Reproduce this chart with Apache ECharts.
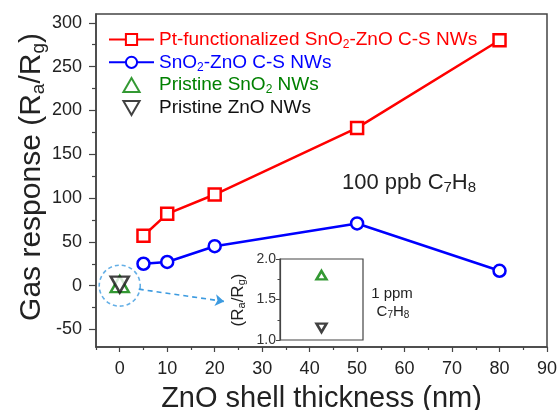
<!DOCTYPE html>
<html><head><meta charset="utf-8">
<script src="https://cdn.jsdelivr.net/npm/echarts@6/dist/echarts.min.js"></script>
<style>html,body{margin:0;padding:0;background:#fff}#c{width:560px;height:410px}</style>
</head><body><div id="c"></div>
<script>
// ---- data ----
const thickness = [5, 10, 20, 50, 80];
const ptSnO2ZnO = [57, 82, 104, 180, 280];
const snO2ZnO = [25, 27, 45, 71, 17];
const pristineX = [0];
const pristineSnO2 = [1.8];
const pristineZnO = [1.15];
const xTicks = [0, 10, 20, 30, 40, 50, 60, 70, 80, 90];
const xMinor = [-5, 5, 15, 25, 35, 45, 55, 65, 75, 85];
const yTicks = [-50, 0, 50, 100, 150, 200, 250, 300];
const yMinor = [-25, 25, 75, 125, 175, 225, 275];
const insetTicks = [1.0, 1.5, 2.0];
const insetMinor = [1.25, 1.75];
const seriesNames = ['Pt-functionalized SnO2-ZnO C-S NWs', 'SnO2-ZnO C-S NWs', 'Pristine SnO2 NWs', 'Pristine ZnO NWs'];
const circleCenter = [0, 0];
const arrowFrom = [4, -4];
const arrowTo = [22, -18];

const FF = 'Liberation Sans, Arial, sans-serif';
const RED = '#ff0000', BLUE = '#0000ff', GREEN = '#008000', BLACK = '#111111', AX = '#444444', LBL = '#222222';
const TRI_UP = 'path://M5,0L10,8.66L0,8.66Z';
const TRI_DOWN = 'path://M0,0L10,0L5,8.66Z';
const legendKeys = ['r', 'b', 'g', 'k'];
const legendColors = [RED, BLUE, GREEN, BLACK];

const rich = {};
legendKeys.forEach((k, i) => {
  rich[k] = { fontSize: 19, fontFamily: FF, color: legendColors[i], lineHeight: 22 };
  rich[k + 's'] = { fontSize: 12, fontFamily: FF, color: legendColors[i], lineHeight: 12, verticalAlign: 'bottom' };
});

function legendFmt(name) {
  const k = legendKeys[seriesNames.indexOf(name)];
  return '{' + k + '|' + name.replace(/SnO2/g, 'SnO}{' + k + 's|2}{' + k + '|') + '}';
}

const chart = echarts.init(document.getElementById('c'), null, { renderer: 'canvas' });

const option = {
  animation: false,
  backgroundColor: '#fff',
  grid: [
    { left: 96, right: 13, top: 14, bottom: 63, show: true, borderColor: AX, borderWidth: 1.5, outerBoundsMode: 'none', containLabel: false },
    { left: 280, top: 259, width: 83, height: 81, show: true, borderColor: AX, borderWidth: 1.2, backgroundColor: '#fff', outerBoundsMode: 'none', containLabel: false }
  ],
  legend: {
    left: 103, top: 25, orient: 'vertical', itemWidth: 45, itemHeight: 14, itemGap: 2.3,
    selectedMode: false, data: seriesNames, formatter: legendFmt, symbolKeepAspect: true,
    textStyle: { rich: rich }
  },
  xAxis: [
    { gridIndex: 0, type: 'value', min: -5, max: 90, splitLine: { show: false },
      axisLine: { show: true, onZero: false, lineStyle: { color: AX, width: 1.5 } },
      axisTick: { show: true, customValues: xTicks, length: 5, lineStyle: { color: AX, width: 1.2 } },
      axisLabel: { customValues: xTicks, fontSize: 18, fontFamily: FF, color: LBL, margin: 13 },
      name: 'ZnO shell thickness (nm)', nameLocation: 'middle', nameGap: 37,
      nameTextStyle: { fontSize: 29, fontFamily: FF, color: LBL } },
    { gridIndex: 0, type: 'value', min: -5, max: 90, position: 'bottom', splitLine: { show: false },
      axisLine: { show: false, onZero: false },
      axisTick: { show: true, customValues: xMinor, length: 3, lineStyle: { color: AX, width: 1.2 } },
      axisLabel: { show: false } },
    { gridIndex: 1, type: 'value', min: -1, max: 1, splitLine: { show: false },
      axisLine: { show: false, onZero: false }, axisTick: { show: false }, axisLabel: { show: false } }
  ],
  yAxis: [
    { gridIndex: 0, type: 'value', min: -70, max: 310, splitLine: { show: false },
      axisLine: { show: true, onZero: false, lineStyle: { color: AX, width: 1.5 } },
      axisTick: { show: true, customValues: yTicks, length: 7, lineStyle: { color: AX, width: 1.2 } },
      axisLabel: { customValues: yTicks, fontSize: 18, fontFamily: FF, color: LBL, margin: 14 } },
    { gridIndex: 0, type: 'value', min: -70, max: 310, position: 'left', splitLine: { show: false },
      axisLine: { show: false, onZero: false },
      axisTick: { show: true, customValues: yMinor, length: 4, lineStyle: { color: AX, width: 1.2 } },
      axisLabel: { show: false } },
    { gridIndex: 1, type: 'value', min: 1, max: 2, splitLine: { show: false },
      axisLine: { show: true, onZero: false, lineStyle: { color: AX, width: 1.2 } },
      axisTick: { show: true, customValues: insetTicks, length: 4, lineStyle: { color: AX, width: 1 } },
      axisLabel: { customValues: insetTicks, fontSize: 14, fontFamily: FF, color: '#333', margin: 4,
        formatter: v => v.toFixed(1) } },
    { gridIndex: 1, type: 'value', min: 1, max: 2, position: 'left', splitLine: { show: false },
      axisLine: { show: false, onZero: false },
      axisTick: { show: true, customValues: insetMinor, length: 2.5, lineStyle: { color: AX, width: 1 } },
      axisLabel: { show: false } }
  ],
  series: [
    { type: 'scatter', name: 'circle', xAxisIndex: 0, yAxisIndex: 0, silent: true, z: 1,
      data: [circleCenter], symbol: 'circle', symbolSize: 41,
      itemStyle: { color: 'rgba(0,0,0,0)', borderColor: '#3d9be0', borderWidth: 1.6, borderType: [4, 3] },
      markLine: { silent: true, symbol: ['none', 'arrow'], symbolSize: [9, 9],
        lineStyle: { color: '#3d9be0', width: 1.6, type: [5, 4] }, label: { show: false },
        data: [[{ coord: arrowFrom }, { coord: arrowTo }]] } },
    { type: 'line', name: seriesNames[0], xAxisIndex: 0, yAxisIndex: 0, z: 3,
      data: thickness.map((x, i) => [x, ptSnO2ZnO[i]]),
      symbol: 'rect', symbolSize: 12, showAllSymbol: true,
      lineStyle: { color: RED, width: 2.5 },
      itemStyle: { color: '#fff', borderColor: RED, borderWidth: 2.5 } },
    { type: 'line', name: seriesNames[1], xAxisIndex: 0, yAxisIndex: 0, z: 3,
      data: thickness.map((x, i) => [x, snO2ZnO[i]]),
      symbol: 'circle', symbolSize: 12, showAllSymbol: true,
      lineStyle: { color: BLUE, width: 2.5 },
      itemStyle: { color: '#fff', borderColor: BLUE, borderWidth: 2.5 } },
    { type: 'scatter', name: seriesNames[2], xAxisIndex: 0, yAxisIndex: 0, z: 4,
      data: pristineX.map((x, i) => [x, pristineSnO2[i]]),
      symbol: TRI_UP, symbolSize: [18, 16],
      itemStyle: { color: '#fff', borderColor: GREEN, borderWidth: 2.5 } },
    { type: 'scatter', name: seriesNames[3], xAxisIndex: 0, yAxisIndex: 0, z: 5,
      data: pristineX.map((x, i) => [x, pristineZnO[i]]),
      symbol: TRI_DOWN, symbolSize: [18, 16],
      itemStyle: { color: '#fff', borderColor: BLACK, borderWidth: 2.5 } },
    { type: 'scatter', name: seriesNames[2], xAxisIndex: 2, yAxisIndex: 2, z: 6,
      data: pristineX.map((x, i) => [x, pristineSnO2[i]]),
      symbol: TRI_UP, symbolSize: [10, 8.5],
      itemStyle: { color: '#fff', borderColor: GREEN, borderWidth: 2.5 } },
    { type: 'scatter', name: seriesNames[3], xAxisIndex: 2, yAxisIndex: 2, z: 6,
      data: pristineX.map((x, i) => [x, pristineZnO[i]]),
      symbol: TRI_DOWN, symbolSize: [10, 8.5],
      itemStyle: { color: '#fff', borderColor: BLACK, borderWidth: 2.5 } }
  ],
  graphic: [
    { type: 'text', x: 32, y: 177, rotation: Math.PI / 2, z: 10,
      style: { text: '{t|Gas response (R}{s|a}{t|/R}{s|g}{t|)}', align: 'center', verticalAlign: 'middle',
        rich: { t: { fontSize: 30, fontFamily: FF, fill: LBL, lineHeight: 33 },
                s: { fontSize: 19, fontFamily: FF, fill: LBL, lineHeight: 19, verticalAlign: 'bottom' } } } },
    { type: 'text', x: 342, y: 183, z: 10,
      style: { text: '{t|100 ppb C}{s|7}{t|H}{s|8}', align: 'left', verticalAlign: 'middle',
        rich: { t: { fontSize: 22, fontFamily: FF, fill: LBL, lineHeight: 25 },
                s: { fontSize: 15, fontFamily: FF, fill: LBL, lineHeight: 15, verticalAlign: 'bottom' } } } },
    { type: 'text', x: 238, y: 300, rotation: Math.PI / 2, z: 10,
      style: { text: '{t|(R}{s|a}{t|/R}{s|g}{t|)}', align: 'center', verticalAlign: 'middle',
        rich: { t: { fontSize: 17, fontFamily: FF, fill: LBL, lineHeight: 19 },
                s: { fontSize: 11, fontFamily: FF, fill: LBL, lineHeight: 11, verticalAlign: 'bottom' } } } },
    { type: 'text', x: 392, y: 294, z: 10,
      style: { text: '1 ppm', align: 'center', verticalAlign: 'middle', fontSize: 15, fontFamily: FF, fill: LBL } },
    { type: 'text', x: 393, y: 312, z: 10,
      style: { text: '{t|C}{s|7}{t|H}{s|8}', align: 'center', verticalAlign: 'middle',
        rich: { t: { fontSize: 15, fontFamily: FF, fill: LBL, lineHeight: 17 },
                s: { fontSize: 10, fontFamily: FF, fill: LBL, lineHeight: 10, verticalAlign: 'bottom' } } } }
  ]
};
chart.setOption(option);
</script>
</body></html>
